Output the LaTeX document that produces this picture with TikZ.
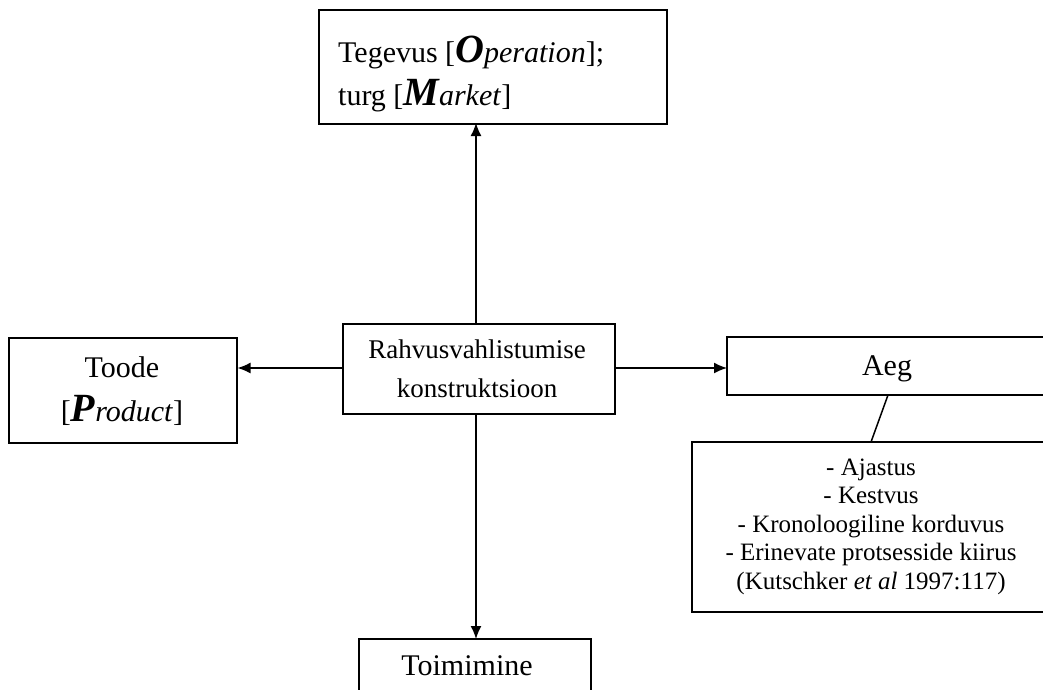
\documentclass[tikz,border=0pt]{standalone}
\usepackage{fontspec}
\setmainfont{Liberation Serif}
\usetikzlibrary{arrows.meta}
\newcommand{\bigbi}[1]{{\fontsize{40}{40}\selectfont\bfseries\itshape #1}}
\begin{document}
\begin{tikzpicture}[x=1pt,y=-1pt,
  box/.style={draw, line width=1.5pt, inner sep=0pt},
  arr/.style={-{Latex[length=13pt,width=11pt]}, line width=1.5pt},
  lnk/.style={line width=1.5pt},
  txt/.style={inner sep=0pt, anchor=base, font=\fontsize{30}{36}\selectfont},
  ctxt/.style={inner sep=0pt, anchor=base, font=\fontsize{27}{32}\selectfont},
  dtxt/.style={inner sep=0pt, anchor=base, font=\fontsize{25}{29}\selectfont}]
\useasboundingbox (0,0) rectangle (1043,689);
% boxes
\node[box, anchor=north west, minimum width=348pt, minimum height=114pt] (op) at (318,9) {};
\node[box, anchor=north west, minimum width=272pt, minimum height=90pt] (c) at (342,323) {};
\node[box, anchor=north west, minimum width=228pt, minimum height=105pt] (p) at (8,337) {};
% Aeg box (right side cut off by the page edge)
\coordinate (aegtr) at (1046,337);
\coordinate (aegbl) at (727,395);
\draw[lnk] (aegtr) -| (aegbl) -- (aegbl -| aegtr);
% detail box (right side cut off)
\coordinate (dettr) at (1046,442);
\coordinate (detbl) at (692,612);
\draw[lnk] (dettr) -| (detbl) -- (detbl -| dettr);
% Toimimine box (bottom cut off)
\coordinate (tobl) at (359,692);
\coordinate (totr) at (591,639);
\draw[lnk] (tobl) |- (totr) -- (totr |- tobl);
% texts
\node[txt, anchor=base west] (op1) at (338,62) {Tegevus [\bigbi{O}\textit{peration}];};
\node[txt, anchor=base west] (op2) at (338,105) {turg [\bigbi{M}\textit{arket}]};
\node[ctxt] (c1) at (477,358) {Rahvusvahlistumise};
\node[ctxt] (c2) at (477,397) {konstruktsioon};
\node[txt] (p1) at (122,377) {Toode};
\node[txt] (p2) at (122,421) {[\bigbi{P}\textit{roduct}]};
\node[txt] (aegtx) at (887,375) {Aeg};
\node[dtxt] (d1) at (871,475) {- Ajastus};
\node[dtxt] (d2) at (871,503.5) {- Kestvus};
\node[dtxt] (d3) at (871,532) {- Kronoloogiline korduvus};
\node[dtxt] (d4) at (871,560.5) {- Erinevate protsesside kiirus};
\node[dtxt] (d5) at (871,589) {(Kutschker \textit{et al} 1997:117)};
\node[txt] (totx) at (467,675) {Toimimine};
% connectors
\coordinate (toptip) at (476,123);
\coordinate (bottip) at (476,639);
\coordinate (aegtip) at (727,368);
\coordinate (aegbot) at (888,395);
\coordinate (dettop) at (871,442);
\draw[arr] (c.north -| toptip) -- (toptip);
\draw[arr] (c.west |- aegtip) -- (p.east |- aegtip);
\draw[arr] (c.east |- aegtip) -- (aegtip);
\draw[arr] (c.south -| bottip) -- (bottip);
\draw[lnk] (aegbot) -- (dettop);
\end{tikzpicture}
\end{document}
